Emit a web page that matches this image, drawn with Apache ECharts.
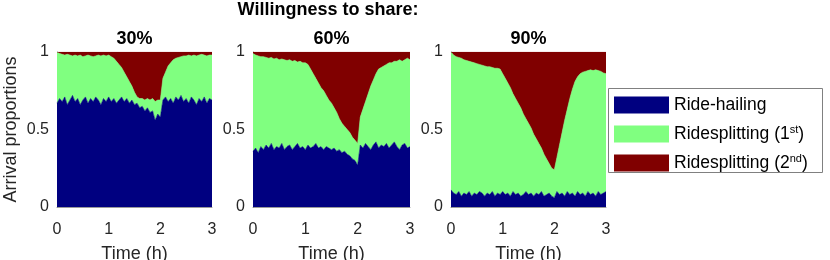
<!DOCTYPE html>
<html>
<head>
<meta charset="utf-8">
<script src="https://cdn.jsdelivr.net/npm/echarts@6/dist/echarts.min.js"></script>
<style>
html,body{margin:0;padding:0;background:#fff;}
#chart{width:830px;height:260px;}
</style>
</head>
<body>
<div id="chart"></div>
<script>
// Time grid (hours)
var times = [0.00,0.05,0.10,0.15,0.20,0.25,0.30,0.35,0.40,0.45,
             0.50,0.55,0.60,0.65,0.70,0.75,0.80,0.85,0.90,0.95,
             1.00,1.05,1.10,1.15,1.20,1.25,1.30,1.35,1.40,1.45,
             1.50,1.55,1.60,1.65,1.70,1.75,1.80,1.85,1.90,1.95,
             2.00,2.05,2.10,2.15,2.20,2.25,2.30,2.35,2.40,2.45,
             2.50,2.55,2.60,2.65,2.70,2.75,2.80,2.85,2.90,2.95,
             3.00];

var panelTitles = ['30%', '60%', '90%'];
var seriesNames = ['Ride-hailing', 'Ridesplitting (1st)', 'Ridesplitting (2nd)'];
var xTicks = [0, 1, 2, 3];
var yTicks = [0, 0.5, 1];

// Willingness 30%: ride-hailing share and cumulative top of ridesplitting (1st)
var rideHailing30 = [0.67,0.70,0.68,0.71,0.66,0.69,0.72,0.68,0.70,0.66,
                     0.69,0.71,0.67,0.70,0.68,0.71,0.69,0.66,0.70,0.68,
                     0.71,0.68,0.70,0.67,0.69,0.71,0.68,0.70,0.67,0.69,
                     0.66,0.67,0.64,0.65,0.62,0.64,0.61,0.62,0.56,0.60,
                     0.58,0.69,0.71,0.68,0.70,0.67,0.71,0.69,0.72,0.68,
                     0.70,0.67,0.71,0.69,0.66,0.70,0.68,0.71,0.67,0.70,
                     0.69];
var firstTop30 = [1.00,0.99,0.985,0.98,0.985,0.98,0.975,0.98,0.975,0.98,
                  0.97,0.975,0.98,0.975,0.97,0.975,0.98,0.975,0.98,0.975,
                  0.98,0.97,0.96,0.94,0.92,0.90,0.87,0.84,0.81,0.78,
                  0.74,0.71,0.70,0.70,0.69,0.70,0.69,0.70,0.68,0.69,
                  0.69,0.83,0.87,0.91,0.93,0.95,0.96,0.965,0.97,0.975,
                  0.975,0.98,0.975,0.98,0.975,0.98,0.985,0.98,0.975,0.98,
                  0.98];

// Willingness 60%
var rideHailing60 = [0.36,0.38,0.35,0.39,0.37,0.40,0.38,0.41,0.37,0.39,
                     0.38,0.41,0.37,0.39,0.40,0.37,0.39,0.41,0.38,0.39,
                     0.37,0.40,0.38,0.39,0.41,0.38,0.39,0.37,0.39,0.38,
                     0.37,0.38,0.36,0.37,0.35,0.36,0.34,0.33,0.31,0.30,
                     0.27,0.40,0.38,0.41,0.39,0.37,0.40,0.42,0.38,0.40,
                     0.39,0.41,0.38,0.40,0.42,0.39,0.37,0.40,0.41,0.38,
                     0.39];
var firstTop60 = [0.99,0.98,0.975,0.97,0.97,0.965,0.96,0.965,0.955,0.96,
                  0.95,0.955,0.95,0.945,0.95,0.94,0.945,0.935,0.94,0.93,
                  0.93,0.92,0.89,0.86,0.83,0.80,0.77,0.75,0.72,0.69,
                  0.67,0.64,0.61,0.57,0.54,0.52,0.50,0.48,0.45,0.43,
                  0.41,0.58,0.63,0.68,0.73,0.78,0.82,0.86,0.89,0.90,
                  0.91,0.92,0.93,0.93,0.94,0.94,0.95,0.94,0.95,0.96,
                  0.95];

// Willingness 90%
var rideHailing90 = [0.11,0.09,0.08,0.10,0.07,0.09,0.08,0.10,0.07,0.09,
                     0.08,0.10,0.09,0.07,0.09,0.08,0.10,0.07,0.09,0.08,
                     0.10,0.08,0.09,0.07,0.10,0.08,0.09,0.07,0.08,0.10,
                     0.08,0.09,0.07,0.09,0.08,0.10,0.07,0.08,0.09,0.07,
                     0.06,0.10,0.08,0.09,0.07,0.10,0.08,0.09,0.07,0.10,
                     0.08,0.09,0.07,0.10,0.08,0.09,0.07,0.10,0.08,0.09,
                     0.10];
var firstTop90 = [1.00,0.98,0.97,0.965,0.96,0.95,0.945,0.94,0.935,0.93,
                  0.925,0.92,0.915,0.91,0.905,0.905,0.90,0.895,0.895,0.89,
                  0.86,0.83,0.80,0.77,0.73,0.70,0.67,0.64,0.60,0.57,
                  0.54,0.51,0.47,0.44,0.41,0.38,0.34,0.31,0.28,0.25,
                  0.24,0.32,0.40,0.48,0.56,0.63,0.70,0.76,0.81,0.84,
                  0.86,0.87,0.875,0.88,0.885,0.88,0.885,0.88,0.875,0.865,
                  0.86];

var panels = [
  {hail: rideHailing30, top: firstTop30},
  {hail: rideHailing60, top: firstTop60},
  {hail: rideHailing90, top: firstTop90}
];

var colors = ['#000080', '#80ff80', '#800000'];
var FONT = '"Liberation Sans", Arial, Helvetica, sans-serif';
var gridLeft = [57, 253, 451];
var gridWidth = [155, 157, 155];

var timeLabels = times.map(function (t) { return String(t); });

var grids = [], xAxes = [], yAxes = [], series = [], graphics = [];

panels.forEach(function (p, k) {
  grids.push({left: gridLeft[k], top: 52, width: gridWidth[k], height: 155,
              containLabel: false, outerBoundsMode: 'none'});
  xAxes.push({
    type: 'category', gridIndex: k, data: timeLabels, boundaryGap: false,
    axisLine: {show: true, onZero: false, lineStyle: {color: '#555', width: 0.6}},
    axisTick: {show: false}, splitLine: {show: false},
    axisLabel: {
      fontSize: 16, color: '#262626', fontFamily: FONT, margin: 15,
      interval: function (idx, value) { return xTicks.indexOf(Number(value)) >= 0; },
      formatter: function (value) { return String(Number(value)); }
    },
    name: 'Time (h)', nameLocation: 'middle', nameGap: 38,
    nameTextStyle: {fontSize: 18, color: '#262626', fontFamily: FONT}
  });
  yAxes.push({
    type: 'value', gridIndex: k, min: yTicks[0], max: yTicks[yTicks.length - 1], interval: 0.5,
    axisLine: {show: true, lineStyle: {color: '#555', width: 0.6}},
    axisTick: {show: false}, splitLine: {show: false},
    axisLabel: {fontSize: 16, color: '#262626', fontFamily: FONT, margin: 8},
    name: k === 0 ? 'Arrival proportions' : '', nameLocation: 'middle', nameGap: 37,
    nameTextStyle: {fontSize: 18, color: '#262626', fontFamily: FONT}
  });
  var hailData = [], firstData = [], secondData = [];
  for (var i = 0; i < times.length; i++) {
    hailData.push(p.hail[i]);
    firstData.push(+(p.top[i] - p.hail[i]).toFixed(4));
    secondData.push(+(1 - p.top[i]).toFixed(4));
  }
  [hailData, firstData, secondData].forEach(function (d, s) {
    series.push({
      name: seriesNames[s], type: 'line', xAxisIndex: k, yAxisIndex: k,
      stack: 'panel' + k, data: d, symbol: 'none', showSymbol: false, smooth: false,
      lineStyle: {width: 0.6, color: colors[s]},
      itemStyle: {color: colors[s]},
      areaStyle: {color: colors[s], opacity: 1},
      silent: true, animation: false
    });
  });
  graphics.push({
    type: 'text', x: gridLeft[k] + gridWidth[k] / 2, y: 39,
    style: {text: panelTitles[k], font: 'bold 18px ' + FONT, fill: '#000',
            align: 'center', verticalAlign: 'middle', textAlign: 'center', textVerticalAlign: 'middle'}
  });
});

graphics.push({
  type: 'text', x: 328, y: 10,
  style: {text: 'Willingness to share:', font: 'bold 18px ' + FONT, fill: '#000',
          align: 'center', verticalAlign: 'middle', textAlign: 'center', textVerticalAlign: 'middle'}
});
graphics.push({
  type: 'rect', shape: {x: 608.5, y: 88.5, width: 214, height: 84},
  style: {fill: '#fff', stroke: '#808080', lineWidth: 1}, z: -1
});

var chart = echarts.init(document.getElementById('chart'), null, {renderer: 'canvas'});
chart.setOption({
  animation: false,
  backgroundColor: '#fff',
  grid: grids, xAxis: xAxes, yAxis: yAxes, series: series,
  graphic: {elements: graphics},
  legend: {
    orient: 'vertical', left: 614, top: 95, padding: 0,
    itemWidth: 55, itemHeight: 17, itemGap: 9, icon: 'rect',
    selectedMode: false,
    data: seriesNames,
    formatter: function (name) {
      if (name === 'Ridesplitting (1st)') return 'Ridesplitting (1{s|st})';
      if (name === 'Ridesplitting (2nd)') return 'Ridesplitting (2{s|nd})';
      return name;
    },
    textStyle: {
      fontSize: 17.5, color: '#000', fontFamily: FONT, lineHeight: 20,
      rich: {s: {fontSize: 11, lineHeight: 11, verticalAlign: 'top', color: '#000', fontFamily: FONT}}
    }
  }
});
</script>
</body>
</html>
